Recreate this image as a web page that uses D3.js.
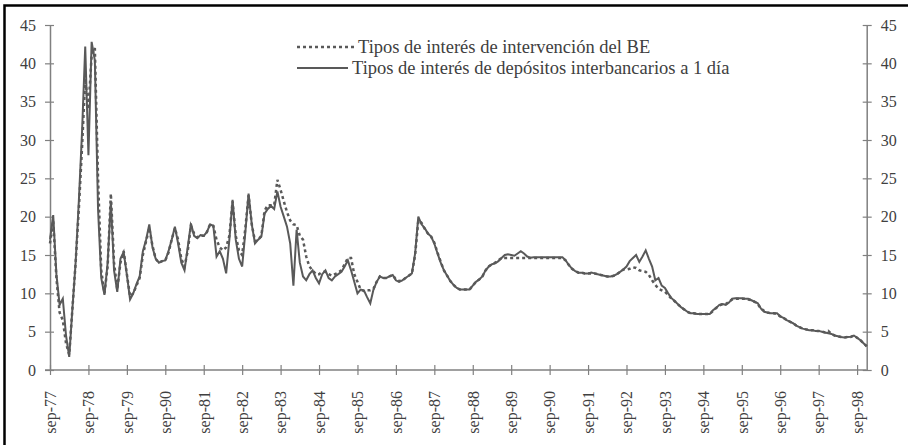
<!DOCTYPE html>
<html>
<head>
<meta charset="utf-8">
<script src="https://cdn.jsdelivr.net/npm/d3@7/dist/d3.min.js"></script>
<style>
    body { margin: 0; background: #fff; }
    #chart { width: 908px; height: 445px; }
    .tick-label { font-family: "Liberation Serif", "Times New Roman", serif; fill: #404040; }
    .legend-label { font-family: "Liberation Serif", "Times New Roman", serif; fill: #404040; }
</style>
</head>
<body>
<div id="chart"></div>
<script>
// Monthly values, one row per year running sep..aug (last row sep-98..dec-98)
// Tipos de interés de depósitos interbancarios a 1 día (solid)
const interbank = [
    [17, 20.2, 12.5, 8.5, 9.3, 4.5, 1.7, 8, 14, 22, 31, 42.2],
    [28, 42.8, 40.4, 21, 12, 9.8, 14, 22, 13, 10.2, 14.5, 15.4],
    [12.4, 9.2, 10, 11.2, 12.2, 15.5, 17, 19, 16, 14.5, 14, 14.2],
    [14.3, 15.5, 17, 18.7, 16.5, 14, 13, 16, 19.1, 17.5, 17.2, 17.6],
    [17.5, 18, 19, 18.8, 14.8, 15.5, 14.5, 12.6, 17, 22.2, 17, 14.5],
    [13.5, 18, 23, 19, 16.5, 17, 17.4, 20.4, 21, 21.4, 21, 23.3],
    [21.3, 20, 18.7, 16.5, 11, 18.3, 14, 12.2, 11.7, 12.5, 13, 12],
    [11.3, 12.5, 13, 12, 11.7, 12.2, 12.5, 12.8, 13.5, 14.3, 13, 11.5],
    [10, 10.5, 10.4, 9.5, 8.7, 10.5, 11.5, 12.2, 12, 12, 12.2, 12.4],
    [11.7, 11.5, 11.7, 12, 12.3, 12.6, 15.2, 20, 19, 18.5, 17.8, 17.4],
    [16.5, 15.2, 14, 13, 12.3, 11.6, 11.1, 10.7, 10.5, 10.5, 10.5, 10.5],
    [11, 11.5, 11.8, 12.2, 13, 13.5, 13.8, 13.9, 14.2, 14.6, 15, 15.1],
    [15, 14.9, 15.2, 15.5, 15.2, 14.8, 14.65, 14.7, 14.7, 14.7, 14.7, 14.7],
    [14.7, 14.7, 14.7, 14.7, 14.7, 14.3, 13.7, 13.2, 12.9, 12.7, 12.7, 12.6],
    [12.6, 12.7, 12.6, 12.5, 12.4, 12.3, 12.2, 12.2, 12.3, 12.5, 12.8, 13.1],
    [13.5, 14.2, 14.6, 15, 14.1, 14.8, 15.6, 14.5, 13.5, 11.7, 12, 11],
    [10.7, 10, 9.4, 9, 8.6, 8.2, 7.9, 7.6, 7.4, 7.4, 7.3, 7.3],
    [7.3, 7.3, 7.3, 7.8, 8.1, 8.5, 8.6, 8.5, 8.8, 9.3, 9.35, 9.35],
    [9.35, 9.3, 9.3, 9.1, 8.9, 8.7, 8.0, 7.6, 7.5, 7.4, 7.4, 7.4],
    [7.0, 6.8, 6.5, 6.3, 6.1, 5.8, 5.6, 5.4, 5.3, 5.2, 5.2, 5.1],
    [5.1, 5.0, 4.9, 4.8, 4.7, 4.5, 4.4, 4.3, 4.25, 4.3, 4.35, 4.5],
    [4.2, 3.9, 3.5, 3.1]
];

// Tipos de interés de intervención del BE (dotted)
const intervention = [
    [16.5, 19.5, 12, 7.5, 6.5, 3.5, 2, 8, 14, 21, 29, 38],
    [34, 41, 42, 25, 13, 10, 13.5, 23, 14, 10.5, 14, 15.5],
    [12.5, 9.6, 10, 11, 12, 15, 16.8, 18.5, 16.2, 14.5, 14, 14.2],
    [14.3, 15.3, 17, 18.5, 17, 14.5, 13.5, 15.5, 18.8, 17.8, 17.3, 17.5],
    [17.5, 18, 19, 18.8, 17, 16, 15.6, 16, 17.5, 22, 17.5, 15.6],
    [15, 18.5, 22.8, 19, 16.8, 17, 17.5, 20.8, 21.5, 21.5, 21.5, 24.8],
    [23.5, 22, 20.6, 19.5, 19, 18.9, 17.5, 17, 14.8, 13.5, 13, 12.5],
    [12.5, 12.8, 12.8, 12.5, 12.3, 12.5, 12.7, 13, 13.8, 14.6, 14.6, 12.5],
    [11.5, 10.5, 10.3, 10.4, 10.4, 10.6, 11.5, 12.2, 12, 12, 12.2, 12.4],
    [11.8, 11.6, 11.7, 12, 12.3, 12.6, 15, 19.5, 19.2, 18.4, 17.8, 17.4],
    [16.6, 15.3, 14.1, 13, 12.3, 11.6, 11.1, 10.7, 10.5, 10.5, 10.5, 10.5],
    [11, 11.5, 11.8, 12.2, 13, 13.5, 13.8, 14, 14.3, 14.6, 14.6, 14.6],
    [14.6, 14.6, 14.6, 14.6, 14.6, 14.6, 14.6, 14.6, 14.6, 14.6, 14.6, 14.6],
    [14.6, 14.6, 14.6, 14.6, 14.6, 14.3, 13.7, 13.2, 12.9, 12.7, 12.7, 12.6],
    [12.6, 12.6, 12.6, 12.5, 12.4, 12.3, 12.2, 12.2, 12.3, 12.5, 12.8, 13.1],
    [13.1, 13.2, 13.4, 13.3, 13.0, 12.9, 12.8, 12.4, 11.7, 11.1, 10.6, 10.4],
    [10.2, 9.8, 9.3, 9, 8.6, 8.2, 7.9, 7.6, 7.4, 7.4, 7.3, 7.3],
    [7.3, 7.3, 7.3, 7.7, 8.1, 8.4, 8.6, 8.6, 8.9, 9.2, 9.3, 9.3],
    [9.3, 9.3, 9.2, 9.1, 8.9, 8.6, 8.0, 7.7, 7.5, 7.4, 7.4, 7.3],
    [7.0, 6.8, 6.5, 6.3, 6.1, 5.8, 5.6, 5.4, 5.3, 5.2, 5.2, 5.1],
    [5.1, 5.0, 4.9, 5.1, 4.7, 4.5, 4.4, 4.3, 4.25, 4.3, 4.3, 4.5],
    [4.2, 3.9, 3.5, 3.1]
];

// Category labels, one every 12 months (the "sep-90" after sep-79 is as printed)
const yearLabels = ["sep-77", "sep-78", "sep-79", "sep-90", "sep-81", "sep-82", "sep-83",
    "sep-84", "sep-85", "sep-86", "sep-87", "sep-88", "sep-89", "sep-90", "sep-91",
    "sep-92", "sep-93", "sep-94", "sep-95", "sep-96", "sep-97", "sep-98"];

const yTicks = [0, 5, 10, 15, 20, 25, 30, 35, 40, 45];

const legendNames = ["Tipos de interés de intervención del BE",
    "Tipos de interés de depósitos interbancarios a 1 día"];

document.addEventListener('DOMContentLoaded', function() {
    createChart();
});

function createChart() {
    const solid = interbank.flat();
    const dotted = intervention.flat();
    const n = solid.length;

    const svg = d3.select("#chart")
        .append("svg")
        .attr("width", 908)
        .attr("height", 445);

    // Frame (only left and top edges fall inside the picture)
    svg.append("rect")
        .attr("x", 4.5)
        .attr("y", 5.5)
        .attr("width", 920)
        .attr("height", 460)
        .attr("fill", "none")
        .attr("stroke", "#000")
        .attr("stroke-width", 2.5);

    const left = 50, right = 866.7, top = 25, bottom = 370;

    const x = d3.scaleLinear().domain([0, n - 1]).range([left, right]);
    const y = d3.scaleLinear().domain([0, 45]).range([bottom, top]);

    const axisColor = "#808080";

    // Left axis
    const yLeft = svg.append("g")
        .attr("transform", `translate(${left},0)`)
        .call(d3.axisLeft(y).tickValues(yTicks).tickSize(0).tickPadding(14));
    yLeft.select(".domain").attr("stroke", axisColor).attr("stroke-width", 1.5);
    yLeft.selectAll(".tick").append("line")
        .attr("x1", -5).attr("x2", 4)
        .attr("stroke", axisColor).attr("stroke-width", 1.2);
    yLeft.selectAll("text")
        .attr("class", "tick-label")
        .style("font-size", "16px");

    // Right axis
    const yRight = svg.append("g")
        .attr("transform", `translate(${right},0)`)
        .call(d3.axisRight(y).tickValues(yTicks).tickSize(0).tickPadding(14));
    yRight.select(".domain").attr("stroke", axisColor).attr("stroke-width", 1.5);
    yRight.selectAll(".tick").append("line")
        .attr("x1", -4).attr("x2", 5)
        .attr("stroke", axisColor).attr("stroke-width", 1.2);
    yRight.selectAll("text")
        .attr("class", "tick-label")
        .style("font-size", "16px");

    // Bottom axis with a tick every 12 months
    const xTickVals = yearLabels.map((d, i) => i * 12);
    const xAxis = svg.append("g")
        .attr("transform", `translate(0,${bottom})`)
        .call(d3.axisBottom(x).tickValues(xTickVals).tickSize(0)
            .tickFormat((d, i) => yearLabels[i]));
    xAxis.select(".domain")
        .attr("d", `M${left - 5},0H${right}`)
        .attr("stroke", axisColor).attr("stroke-width", 1.5);
    xAxis.selectAll(".tick").append("line")
        .attr("y1", -5).attr("y2", 5)
        .attr("stroke", axisColor).attr("stroke-width", 1.2);
    xAxis.selectAll("text")
        .attr("class", "tick-label")
        .style("font-size", "16px")
        .style("text-anchor", "end")
        .attr("transform", "rotate(-90)")
        .attr("x", -21)
        .attr("y", 0)
        .attr("dy", "0.33em");

    const line = d3.line()
        .x((d, i) => x(i))
        .y(d => y(d));

    // Intervention rate (dotted)
    svg.append("path")
        .datum(dotted)
        .attr("d", line)
        .attr("fill", "none")
        .attr("stroke", "#595959")
        .attr("stroke-width", 2.5)
        .attr("stroke-dasharray", "3,3");

    // Interbank overnight rate (solid)
    svg.append("path")
        .datum(solid)
        .attr("d", line)
        .attr("fill", "none")
        .attr("stroke", "#595959")
        .attr("stroke-width", 2);

    // Legend
    const legend = svg.append("g");
    legend.append("line")
        .attr("x1", 297).attr("x2", 355)
        .attr("y1", 47).attr("y2", 47)
        .attr("stroke", "#595959")
        .attr("stroke-width", 2.5)
        .attr("stroke-dasharray", "3,3");
    legend.append("text")
        .attr("class", "legend-label")
        .attr("x", 358).attr("y", 52.5)
        .style("font-size", "18.5px")
        .text(legendNames[0]);
    legend.append("line")
        .attr("x1", 297).attr("x2", 348)
        .attr("y1", 68).attr("y2", 68)
        .attr("stroke", "#595959")
        .attr("stroke-width", 2);
    legend.append("text")
        .attr("class", "legend-label")
        .attr("x", 352).attr("y", 73.5)
        .style("font-size", "18.5px")
        .text(legendNames[1]);
}
</script>
</body>
</html>
